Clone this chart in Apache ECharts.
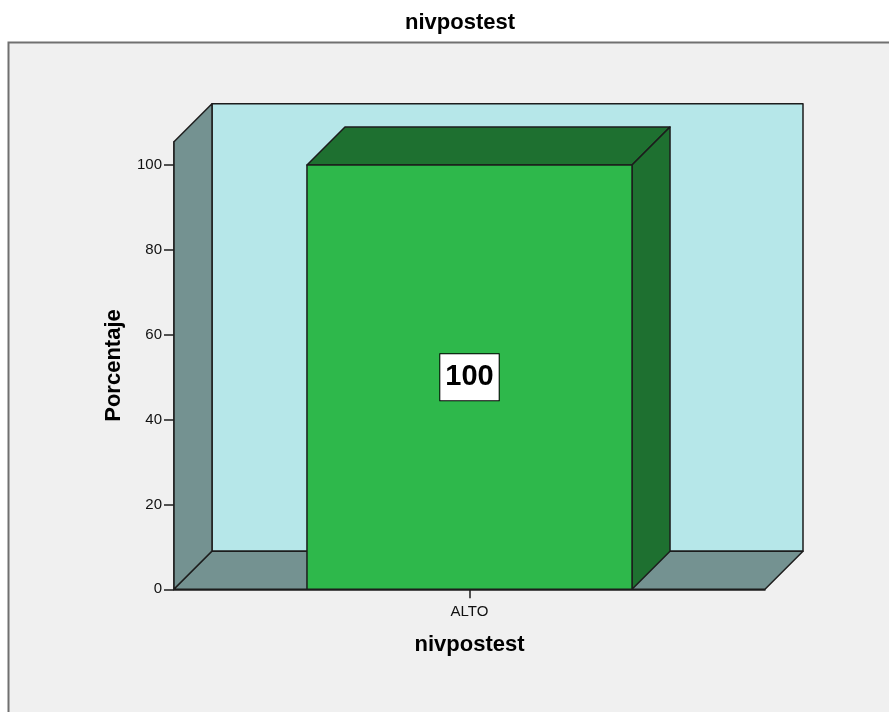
<!DOCTYPE html>
<html>
<head>
<meta charset="utf-8">
<script src="https://cdn.jsdelivr.net/npm/echarts@6/dist/echarts.min.js"></script>
<style>
  html, body { margin: 0; padding: 0; background: #ffffff; }
  #chart { width: 889px; height: 712px; }
</style>
</head>
<body>
<div id="chart"></div>
<script>
// values
const categories = ['ALTO'];
const percentages = [100];
const yTicks = [0, 20, 40, 60, 80, 100];

const DEPTH = 38;          // 3D offset in px
const LINE = '#1c1c1c';

const chart = echarts.init(document.getElementById('chart'));

function renderWalls(params, api) {
    const cs = params.coordSys;
    const x0 = cs.x, x1 = cs.x + cs.width;
    const yTop = cs.y, yBot = cs.y + cs.height;
    const d = DEPTH;
    const style = { stroke: LINE, lineWidth: 1.5, lineJoin: 'round' };
    return {
        type: 'group',
        children: [
            { type: 'rect', shape: { x: x0 + d, y: yTop - d, width: cs.width, height: cs.height },
              style: Object.assign({ fill: '#b6e7e9' }, style) },
            { type: 'polygon', shape: { points: [[x0, yBot], [x0, yTop], [x0 + d, yTop - d], [x0 + d, yBot - d]] },
              style: Object.assign({ fill: '#749291' }, style) },
            { type: 'polygon', shape: { points: [[x0, yBot], [x1, yBot], [x1 + d, yBot - d], [x0 + d, yBot - d]] },
              style: Object.assign({ fill: '#749291' }, style) }
        ]
    };
}

function renderBar(params, api) {
    const idx = api.value(0);
    const val = api.value(1);
    const base = api.coord([idx, 0]);
    const top = api.coord([idx, val]);
    const mid = api.coord([idx, val / 2]);
    const w = api.size([1, 0])[0] * 0.55;
    const l = base[0] - w / 2, r = base[0] + w / 2;
    const d = DEPTH;
    const style = { stroke: LINE, lineWidth: 1.5, lineJoin: 'round' };
    return {
        type: 'group',
        children: [
            { type: 'polygon', shape: { points: [[l, top[1]], [r, top[1]], [r + d, top[1] - d], [l + d, top[1] - d]] },
              style: Object.assign({ fill: '#1e7030' }, style) },
            { type: 'polygon', shape: { points: [[r, top[1]], [r + d, top[1] - d], [r + d, base[1] - d], [r, base[1]]] },
              style: Object.assign({ fill: '#1e7030' }, style) },
            { type: 'rect', shape: { x: l, y: top[1], width: w, height: base[1] - top[1] },
              style: Object.assign({ fill: '#2eb84b' }, style) },
            { type: 'text', x: mid[0], y: mid[1],
              style: {
                  text: String(val), fontSize: 29, fontWeight: 'bold', fontFamily: 'Liberation Sans',
                  fill: '#000', align: 'center', verticalAlign: 'middle',
                  backgroundColor: '#ffffff', borderColor: '#000', borderWidth: 1,
                  padding: [7, 5, 5, 5], lineHeight: 34
              } }
        ]
    };
}

const option = {
    animation: false,
    textStyle: { fontFamily: 'Liberation Sans' },
    title: {
        text: 'nivpostest',
        left: 455,
        textAlign: 'center',
        top: 7,
        textStyle: { fontSize: 22, fontWeight: 'bold', color: '#000', fontFamily: 'Liberation Sans' }
    },
    graphic: [{
        type: 'rect', z: -10, silent: true,
        shape: { x: 8.5, y: 42.5, width: 920, height: 700 },
        style: { fill: '#f0f0f0', stroke: '#707070', lineWidth: 2 }
    }],
    grid: { left: 174, right: 124, top: 141.7, bottom: 122.7 },
    xAxis: {
        type: 'category',
        data: categories,
        name: 'nivpostest',
        nameLocation: 'middle',
        nameGap: 45,
        nameTextStyle: { fontSize: 22, fontWeight: 'bold', color: '#000' },
        axisLine: { show: true, lineStyle: { color: LINE, width: 1.5 } },
        axisTick: { show: true, alignWithLabel: true, length: 9, lineStyle: { color: LINE, width: 1.5 } },
        axisLabel: { fontSize: 15, color: '#111', margin: 15 },
        splitLine: { show: false }
    },
    yAxis: {
        type: 'value',
        min: 0,
        max: 105.5,
        name: 'Porcentaje',
        nameLocation: 'middle',
        nameGap: 49,
        nameTextStyle: { fontSize: 22, fontWeight: 'bold', color: '#000' },
        axisLine: { show: true, lineStyle: { color: LINE, width: 1.5 } },
        axisTick: { show: true, customValues: yTicks, length: 10, lineStyle: { color: LINE, width: 1.5 } },
        axisLabel: { customValues: yTicks, fontSize: 15, color: '#111', margin: 12, padding: [5, 0, 0, 0] },
        splitLine: { show: false }
    },
    series: [
        {
            type: 'custom', name: 'walls', z: 1, silent: true,
            renderItem: renderWalls,
            data: [[0, 0]]
        },
        {
            type: 'custom', name: 'Porcentaje', z: 2,
            renderItem: renderBar,
            encode: { x: 0, y: 1 },
            data: categories.map((c, i) => [i, percentages[i]])
        }
    ]
};

chart.setOption(option);
</script>
</body>
</html>
